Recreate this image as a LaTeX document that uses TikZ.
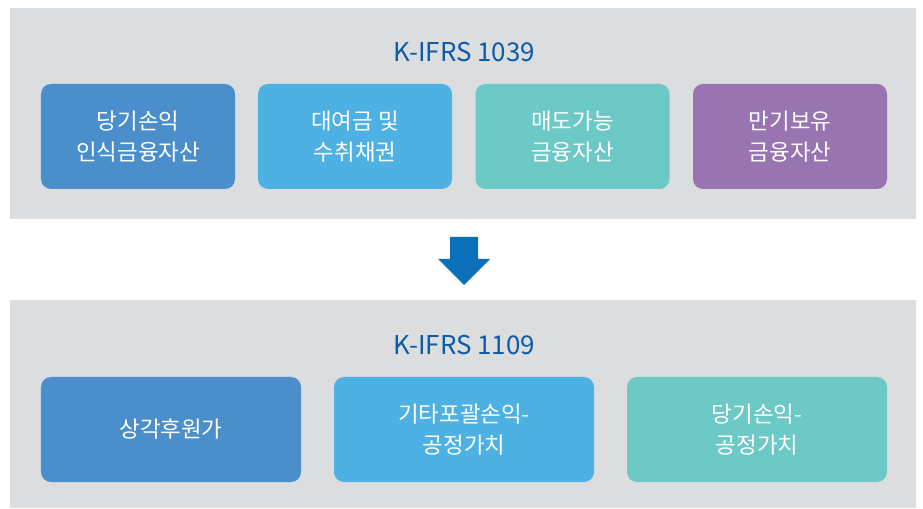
\documentclass[tikz,border=0pt]{standalone}
\usepackage{fontspec}
\setmainfont{Noto Sans CJK KR}
\definecolor{panel}{HTML}{DCDDDF}
\definecolor{cA}{HTML}{4A8FCB}
\definecolor{cB}{HTML}{4DB1E4}
\definecolor{cC}{HTML}{6CC9C6}
\definecolor{cD}{HTML}{9874B0}
\definecolor{titleblue}{HTML}{0B5BA8}
\definecolor{arrowblue}{HTML}{0B6FBA}
\tikzset{
  panelbox/.style={fill=panel, draw=none, inner sep=0pt, minimum width=906bp},
  itembox/.style={draw=none, rounded corners=10bp, text=white, align=center, inner sep=0pt,
    minimum height=105bp, font=\fontsize{22.5}{30.5}\selectfont},
  titletext/.style={text=titleblue, font=\fontsize{26}{30}\selectfont, inner sep=0pt}
}
\begin{document}
\begin{tikzpicture}[x=1bp,y=-1bp]
\useasboundingbox (0,0) rectangle (923,509);
\node[panelbox, minimum height=211bp] (p1) at (463,113.5) {};
\node[panelbox, minimum height=208bp] (p2) at (463,404) {};
\node[titletext] (t1) at (464,52) {K-IFRS 1039};
\node[titletext] (t2) at (464,345) {K-IFRS 1109};
\node[itembox, fill=cA, minimum width=194bp] (a1) at (138,136.5) {당기손익\\인식금융자산};
\node[itembox, fill=cB, minimum width=194bp] (a2) at (355,136.5) {대여금 및\\수취채권};
\node[itembox, fill=cC, minimum width=194bp] (a3) at (572.5,136.5) {매도가능\\금융자산};
\node[itembox, fill=cD, minimum width=194bp] (a4) at (790,136.5) {만기보유\\금융자산};
\node[itembox, fill=cA, minimum width=260bp] (b1) at (171,429.5) {상각후원가};
\node[itembox, fill=cB, minimum width=260bp] (b2) at (464,429.5) {기타포괄손익-\\공정가치};
\node[itembox, fill=cC, minimum width=260bp] (b3) at (757,429.5) {당기손익-\\공정가치};
\fill[arrowblue] (450,237) -- (478,237) -- (478,259) -- (490,259) -- (464,285) -- (438,259) -- (450,259) -- cycle;
\end{tikzpicture}
\end{document}
